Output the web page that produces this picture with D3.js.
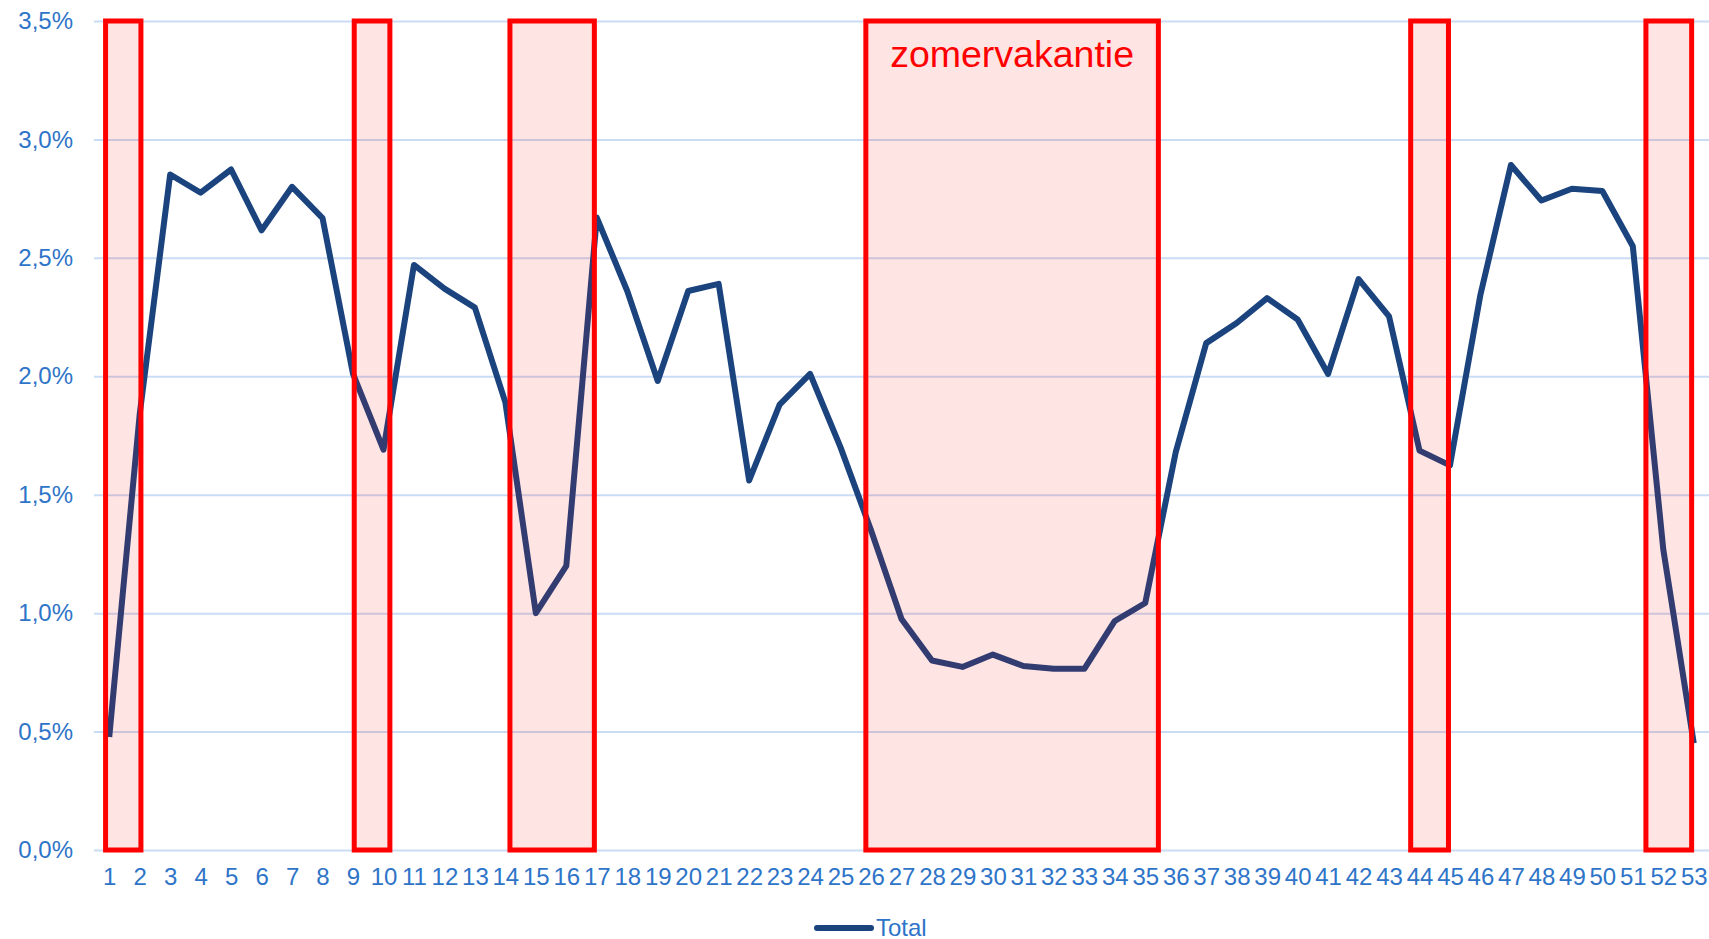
<!DOCTYPE html>
<html>
<head>
  <meta charset="utf-8">
  <title>Total per week</title>
  <style>
    body { margin: 0; background: #fff; }
    svg { display: block; font-family: "Liberation Sans", Arial, sans-serif; }
    .axis text { fill: #2e74c8; font-size: 24px; }
    .axis .domain { display: none; }
    .grid line { stroke: #c9dcf4; stroke-width: 2px; }
    .vak { fill: rgba(255, 0, 0, 0.105); stroke: #ff0000; stroke-width: 5px; }
  </style>
</head>
<body>
  <svg width="1709" height="939"></svg>
  <script src="https://d3js.org/d3.v7.min.js"></script>
  <script>
    // weeks 1..53 and their share (%)
    const weeks = d3.range(1, 54);
    const total = [
      0.477, 1.84, 2.852, 2.775, 2.873, 2.616, 2.80, 2.668, 2.01, 1.69,
      2.47, 2.37, 2.29, 1.89, 1.00, 1.20, 2.67, 2.36, 1.98, 2.36,
      2.39, 1.56, 1.88, 2.01, 1.70, 1.35, 0.975, 0.80, 0.773, 0.825,
      0.777, 0.765, 0.765, 0.967, 1.043, 1.68, 2.14, 2.225, 2.33, 2.24,
      2.01, 2.41, 2.253, 1.686, 1.624, 2.345, 2.892, 2.742, 2.792, 2.782,
      2.549, 1.269, 0.451
    ];
    const yTicks = [0, 0.5, 1, 1.5, 2, 2.5, 3, 3.5];
    const seriesName = "Total";

    // holiday boxes (hand drawn in the original, so edges are in fractional weeks)
    const vakStart = [0.88, 9.04, 14.15, 25.83, 43.71, 51.43];
    const vakEnd   = [2.04, 10.21, 16.92, 35.43, 44.95, 52.93];
    const vakLabel = ["", "", "", "zomervakantie", "", ""];

    const svg = d3.select("svg");
    const plotLeft = 94, plotRight = 1709, plotTop = 21, plotBottom = 850;

    const x = d3.scaleLinear().domain([0.5, 53.5]).range([plotLeft, plotRight]);
    const y = d3.scaleLinear().domain([0, 3.5]).range([plotBottom, plotTop]);

    // y axis + gridlines
    svg.append("g")
      .attr("class", "axis grid")
      .attr("transform", `translate(${plotLeft},0)`)
      .call(d3.axisLeft(y)
        .tickValues(yTicks)
        .tickSize(-(plotRight - plotLeft))
        .tickPadding(21)
        .tickFormat(d => d.toFixed(1).replace(".", ",") + "%"));

    // x axis labels
    svg.append("g")
      .attr("class", "axis")
      .attr("transform", `translate(0,${plotBottom})`)
      .call(d3.axisBottom(x).tickValues(weeks).tickSize(0).tickPadding(18).tickFormat(d3.format("d")));

    // the series line
    const line = d3.line()
      .x((d, i) => x(weeks[i]))
      .y(d => y(d));

    svg.append("path")
      .datum(total)
      .attr("fill", "none")
      .attr("stroke", "#1b447f")
      .attr("stroke-width", 6)
      .attr("stroke-linejoin", "round")
      .attr("d", line);

    // holiday boxes on top of the line
    const vak = svg.append("g").selectAll("g")
      .data(vakStart.map((s, i) => ({ s: s, e: vakEnd[i], label: vakLabel[i] })))
      .join("g");

    vak.append("rect")
      .attr("class", "vak")
      .attr("x", d => x(d.s))
      .attr("y", y(3.5))
      .attr("width", d => x(d.e) - x(d.s))
      .attr("height", y(0) - y(3.5));

    vak.filter(d => d.label)
      .append("text")
      .attr("x", d => (x(d.s) + x(d.e)) / 2)
      .attr("y", 67)
      .attr("text-anchor", "middle")
      .attr("fill", "#ff0000")
      .attr("font-size", 37.5)
      .text(d => d.label);

    // legend
    const legend = svg.append("g").attr("transform", "translate(817,928)");
    legend.append("line")
      .attr("x1", 0).attr("x2", 54)
      .attr("stroke", "#1b447f")
      .attr("stroke-width", 6)
      .attr("stroke-linecap", "round");
    legend.append("text")
      .attr("x", 59)
      .attr("y", 8)
      .attr("fill", "#2e74c8")
      .attr("font-size", 24)
      .text(seriesName);
  </script>
</body>
</html>
